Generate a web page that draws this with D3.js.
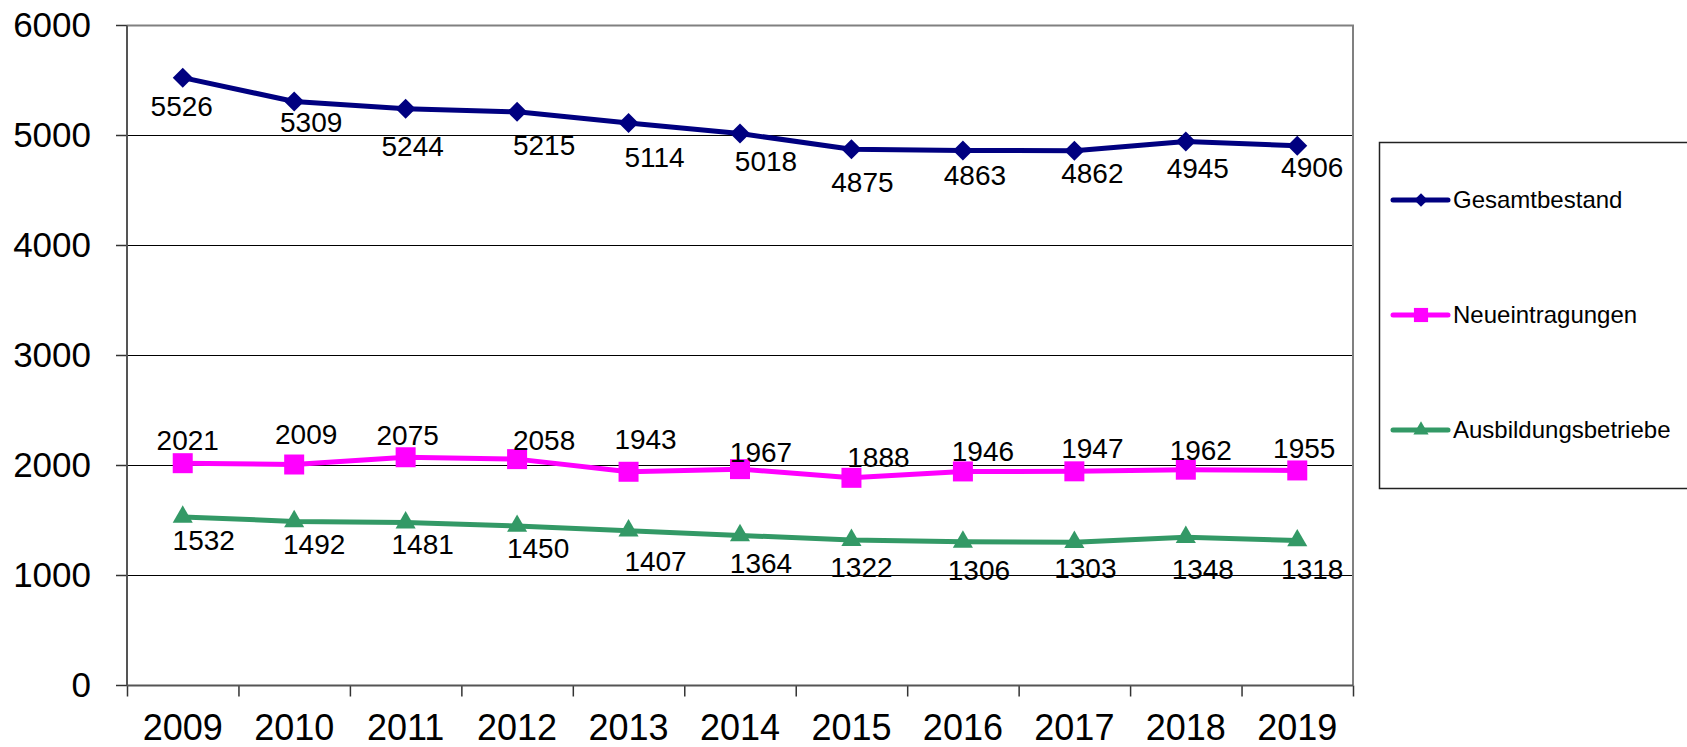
<!DOCTYPE html>
<html>
<head>
<meta charset="utf-8" />
<title>Gesamtbestand, Neueintragungen, Ausbildungsbetriebe</title>
<script type="text/javascript" src="https://d3js.org/d3.v7.min.js"></script>
<style type="text/css">
    body { margin: 0; background: #fff; }
    svg text { font-family: "Liberation Sans", Arial, sans-serif; fill: #000; }
    .axis path { display: none; }
    .label text { font-size: 28px; }
</style>
</head>
<body>
<svg></svg>
<script>
    var w = 1687; // width
    var h = 747;  // height

    // data
    var years = ["2009", "2010", "2011", "2012", "2013", "2014", "2015", "2016", "2017", "2018", "2019"];
    var gesamtbestand = [5526, 5309, 5244, 5215, 5114, 5018, 4875, 4863, 4862, 4945, 4906];
    var neueintragungen = [2021, 2009, 2075, 2058, 1943, 1967, 1888, 1946, 1947, 1962, 1955];
    var ausbildungsbetriebe = [1532, 1492, 1481, 1450, 1407, 1364, 1322, 1306, 1303, 1348, 1318];
    var seriesNames = ["Gesamtbestand", "Neueintragungen", "Ausbildungsbetriebe"];
    var yTicks = [0, 1000, 2000, 3000, 4000, 5000, 6000];

    // label nudges (the labels in the original were placed by hand)
    var shiftGesamt = [[-1, 29], [17, 21], [7, 38], [27, 33], [26, 34], [26, 28], [11, 33], [12, 25], [18, 23], [12, 27], [15, 21]];
    var shiftNeu = [[5, -23], [12, -30], [2, -22], [27, -19], [17, -33], [21, -17], [27, -21], [20, -20], [18, -23], [15, -19], [7, -22]];
    var shiftAus = [[21, 23], [20, 23], [17, 22], [21, 22], [27, 30], [21, 28], [10, 27], [16, 28], [11, 26], [17, 32], [15, 29]];

    // plot area (window.top is reserved, so no "top" here)
    var plotLeft = 127, plotRight = 1353, plotTop = 25.5, plotBottom = 685.5;

    var svg = d3.select("svg").attr("width", w).attr("height", h);

    var x = d3.scaleBand().domain(years).range([plotLeft, plotRight]);
    var xEdge = d3.scaleLinear().domain([0, years.length]).range([plotLeft, plotRight]);
    var y = d3.scaleLinear().domain([0, 6000]).range([plotBottom, plotTop]);

    // gridlines
    svg.append("g")
        .attr("class", "axis")
        .attr("transform", "translate(" + plotLeft + ",0)")
        .call(d3.axisLeft(y).tickValues(yTicks.slice(1, -1)).tickSize(-(plotRight - plotLeft)).tickFormat("").offset(0))
        .selectAll("line").attr("stroke", "#000").attr("stroke-width", 1);

    // plot area border (top + right)
    svg.append("path")
        .attr("d", "M" + plotLeft + "," + plotTop + "H" + plotRight + "V" + plotBottom)
        .attr("fill", "none")
        .attr("stroke", "#808080")
        .attr("stroke-width", 2);

    // y axis
    var gy = svg.append("g")
        .attr("class", "axis")
        .attr("transform", "translate(" + plotLeft + ",0)")
        .call(d3.axisLeft(y).tickValues(yTicks).tickFormat(d3.format("d")).tickSize(11).tickPadding(25).offset(0));
    gy.selectAll("line").attr("stroke", "#333").attr("stroke-width", 1.5);
    gy.selectAll("text").style("font-size", "35px").attr("fill", "#000");
    gy.append("line").attr("x1", 0).attr("x2", 0).attr("y1", plotTop).attr("y2", plotBottom)
        .attr("stroke", "#555").attr("stroke-width", 2);

    // x axis: ticks between categories, labels at centres
    var gxt = svg.append("g")
        .attr("class", "axis")
        .attr("transform", "translate(0," + plotBottom + ")")
        .call(d3.axisBottom(xEdge).tickValues(d3.range(years.length + 1)).tickSize(11).tickFormat(""));
    gxt.selectAll("line").attr("stroke", "#333").attr("stroke-width", 1.5);
    gxt.append("line").attr("x1", plotLeft).attr("x2", plotRight).attr("y1", 0).attr("y2", 0)
        .attr("stroke", "#555").attr("stroke-width", 2);

    var gx = svg.append("g")
        .attr("class", "axis")
        .attr("transform", "translate(0," + plotBottom + ")")
        .call(d3.axisBottom(x).tickSize(0));
    gx.selectAll("text").style("font-size", "36px").attr("fill", "#000")
        .attr("y", 42).attr("dy", "0.35em");

    // series
    var series = [
        { name: seriesNames[0], values: gesamtbestand, color: "#000080", symbol: d3.symbolSquare, size: 200, rotate: 45, shift: shiftGesamt, lsize: 90 },
        { name: seriesNames[1], values: neueintragungen, color: "#FF00FF", symbol: d3.symbolSquare, size: 400, rotate: 0, shift: shiftNeu, lsize: 200 },
        { name: seriesNames[2], values: ausbildungsbetriebe, color: "#339966", symbol: d3.symbolTriangle, size: 175, rotate: 0, shift: shiftAus, lsize: 100 }
    ];

    var line = d3.line()
        .x(function(d, i) { return x(years[i]) + x.bandwidth() / 2; })
        .y(function(d) { return y(d); });

    series.forEach(function(s) {
        var g = svg.append("g");
        g.append("path")
            .attr("d", line(s.values))
            .attr("fill", "none")
            .attr("stroke", s.color)
            .attr("stroke-width", 5)
            .attr("stroke-linejoin", "round");

        g.selectAll("path.marker")
            .data(s.values)
            .enter()
            .append("path")
            .attr("class", "marker")
            .attr("d", d3.symbol().type(s.symbol).size(s.size))
            .attr("fill", s.color)
            .attr("transform", function(d, i) {
                return "translate(" + (x(years[i]) + x.bandwidth() / 2) + "," + y(d) + ") rotate(" + s.rotate + ")";
            });

        g.append("g").attr("class", "label")
            .selectAll("text")
            .data(s.values)
            .enter()
            .append("text")
            .attr("x", function(d, i) { return x(years[i]) + x.bandwidth() / 2 + s.shift[i][0]; })
            .attr("y", function(d, i) { return y(d) + s.shift[i][1]; })
            .attr("dy", "0.35em")
            .attr("text-anchor", "middle")
            .text(function(d) { return d; });
    });

    // legend
    var legend = svg.append("g");
    legend.append("rect")
        .attr("x", 1379.5).attr("y", 142.5)
        .attr("width", 340).attr("height", 346)
        .attr("fill", "#fff")
        .attr("stroke", "#222")
        .attr("stroke-width", 1.5);

    var legendY = d3.scalePoint().domain(seriesNames).range([200, 430]);

    series.forEach(function(s) {
        var ly = legendY(s.name);
        legend.append("line")
            .attr("x1", 1393).attr("x2", 1448).attr("y1", ly).attr("y2", ly)
            .attr("stroke", s.color).attr("stroke-width", 5).attr("stroke-linecap", "round");
        legend.append("path")
            .attr("d", d3.symbol().type(s.symbol).size(s.lsize))
            .attr("fill", s.color)
            .attr("transform", "translate(1421," + ly + ") rotate(" + s.rotate + ")");
        legend.append("text")
            .attr("x", 1453).attr("y", ly)
            .attr("dy", "0.35em")
            .style("font-size", "24px")
            .text(s.name);
    });
</script>
</body>
</html>
